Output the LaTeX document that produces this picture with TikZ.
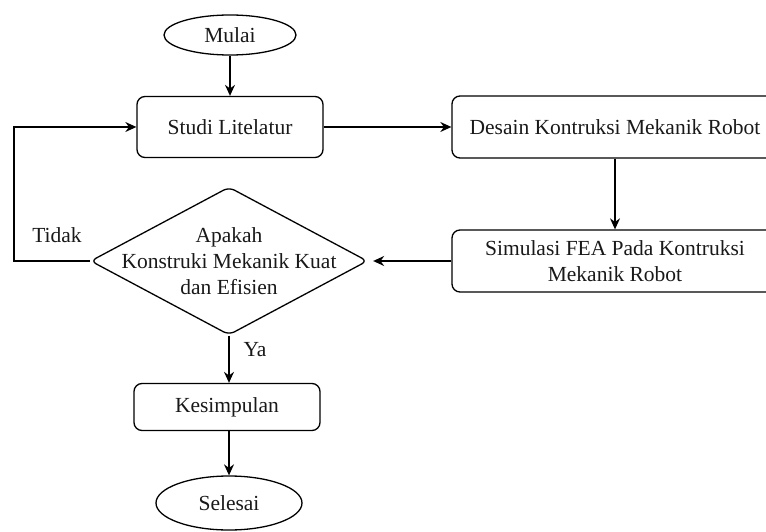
\documentclass[tikz,border=0pt]{standalone}
\usepackage{fontspec}
\setmainfont{Liberation Serif}
\usetikzlibrary{shapes.geometric,arrows.meta}
\begin{document}
\begin{tikzpicture}[x=1pt,y=-1pt,
  every node/.style={font=\fontsize{21.5}{26}\selectfont, text=black!90},
  proc/.style={draw, line width=1.3pt, rounded corners=8pt, align=center, inner sep=0pt},
  term/.style={draw, line width=1.3pt, ellipse, inner sep=0pt},
  dec/.style={draw, line width=1.3pt, diamond, rounded corners=6pt, inner sep=0pt, minimum width=277pt, minimum height=148pt},
  conn/.style={line width=1.3pt, -{Stealth[length=11pt,width=10pt]}}]
\useasboundingbox (0,0) rectangle (766,532);
\node[term, minimum width=132pt, minimum height=40pt] (start) at (230,35) {Mulai};
\node[proc, minimum width=186pt, minimum height=61pt] (studi) at (230,127) {Studi Litelatur};
\node[proc, minimum width=326pt, minimum height=62pt] (desain) at (615,127) {Desain Kontruksi Mekanik Robot};
\node[proc, minimum width=326pt, minimum height=62pt] (sim) at (615,261) {Simulasi FEA Pada Kontruksi\\Mekanik Robot};
\node[dec] (q) at (229,261) {};
\node[align=center, inner sep=0pt] (qtext) at (229,261) {Apakah\\Konstruki Mekanik Kuat\\dan Efisien};
\node[proc, minimum width=186pt, minimum height=47pt] (kes) at (227,407) {Kesimpulan};
\node[term, minimum width=146pt, minimum height=54pt] (end) at (229,503) {Selesai};
\node (tidak) at (57,235) {Tidak};
\node (ya) at (255,350) {Ya};
\coordinate (loop) at (14,261);
\draw[conn] (start) -- (studi);
\draw[conn] (studi) -- (desain);
\draw[conn] (desain) -- (sim);
\draw[conn] (sim.west) -- ([xshift=5pt]q.east);
\draw[conn] (q.west) -- (loop) |- (studi.west);
\draw[conn] (q.south) -- (kes.north -| q.south);
\draw[conn] (kes.south -| q.south) -- (end);
\end{tikzpicture}
\end{document}
